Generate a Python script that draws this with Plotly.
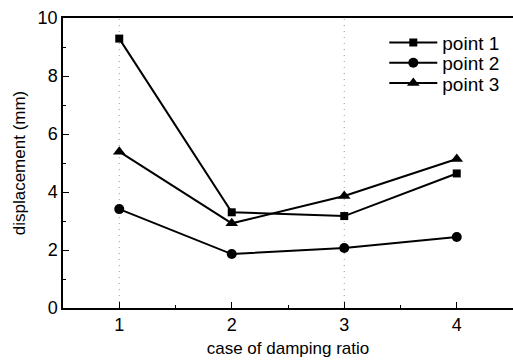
import plotly.graph_objects as go

# damping-ratio cases and measured displacements (mm)
cases = [1, 2, 3, 4]
point1 = [9.29, 3.30, 3.17, 4.64]
point2 = [3.41, 1.86, 2.07, 2.45]
point3 = [5.39, 2.92, 3.86, 5.14]
series_names = ["point 1", "point 2", "point 3"]
marker_symbols = ["square", "circle", "triangle-up"]
marker_sizes = [8, 10, 11]
dotted_cases = [1, 3]

FONT = "Liberation Sans, Arial, sans-serif"

# one legend box per series so the rows can sit close together
legend_ids = ["legend", "legend2", "legend3"]
legend_tops = [0.915, 0.845, 0.775]

fig = go.Figure()
for name, vals, sym, sz, lg in zip(series_names, [point1, point2, point3],
                                   marker_symbols, marker_sizes, legend_ids):
    fig.add_trace(go.Scatter(
        x=cases, y=vals, name=name, mode="lines+markers", legend=lg,
        line=dict(color="black", width=2),
        marker=dict(symbol=sym, size=sz, color="black"),
    ))

for c in dotted_cases:
    fig.add_vline(x=c, line=dict(color="#9a9a9a", width=1, dash="1px,5px"), layer="below")

legend_style = dict(
    x=0.714, xanchor="left", yanchor="middle",
    bgcolor="rgba(0,0,0,0)", font=dict(size=19, family=FONT, color="black"),
    itemwidth=48, borderwidth=0,
)

fig.update_layout(
    width=513, height=362,
    margin=dict(l=63, r=0, t=18, b=54),
    paper_bgcolor="white", plot_bgcolor="white",
    font=dict(family=FONT, color="black", size=17),
    showlegend=True,
    legend=dict(y=legend_tops[0], **legend_style),
    legend2=dict(y=legend_tops[1], **legend_style),
    legend3=dict(y=legend_tops[2], **legend_style),
    xaxis=dict(
        range=[0.5, 4.5], tickvals=cases, ticks="inside", ticklen=6,
        tickcolor="black", tickwidth=1.2,
        showline=True, linecolor="black", linewidth=1.5, mirror=True,
        showgrid=False, zeroline=False,
        tickfont=dict(size=18),
        minor=dict(dtick=0.5, tick0=0.5, ticks="inside", ticklen=3, tickcolor="black"),
        title=dict(text="case of damping ratio", font=dict(size=17), standoff=8),
    ),
    yaxis=dict(
        range=[0, 10], dtick=2, ticks="inside", ticklen=6,
        tickcolor="black", tickwidth=1.2,
        showline=True, linecolor="black", linewidth=1.5,
        showgrid=False, zeroline=False,
        tickfont=dict(size=18),
        minor=dict(dtick=1, ticks="inside", ticklen=3, tickcolor="black"),
        title=dict(text="displacement (mm)", font=dict(size=17), standoff=8),
    ),
)

fig.write_html("out.html")
